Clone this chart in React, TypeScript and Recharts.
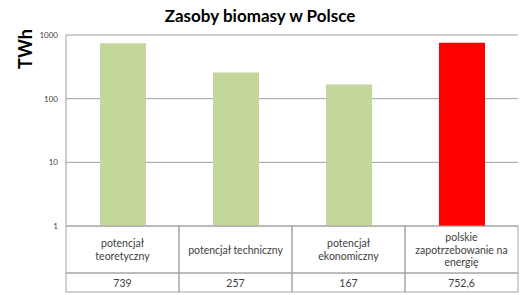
import { BarChart, Bar, XAxis, YAxis, CartesianGrid, Cell } from "recharts"

const categories = [
  "potencjał\nteoretyczny",
  "potencjał techniczny",
  "potencjał\nekonomiczny",
  "polskie\nzapotrzebowanie na\nenergię",
]
const values = [739, 257, 167, 752.6]
const valueLabels = ["739", "257", "167", "752,6"]
const barColors = ["#c3d69b", "#c3d69b", "#c3d69b", "#ff0000"]
const yTicks = [1, 10, 100, 1000]

const data = categories.map((name, i) => ({ name, value: values[i], label: valueLabels[i] }))

const W = 525
const H = 295
const margin = { top: 35, right: 7, bottom: 3, left: 0 }
const yAxisWidth = 66
const colW = (W - margin.left - margin.right - yAxisWidth) / categories.length
const headerH = 47
const valueH = 19
const font = "Lato, 'Open Sans', sans-serif"

const TableTick = (props: any) => {
  const { x, y, index, payload } = props
  const lines = String(payload.value).split("\n")
  const midY = y + headerH / 2
  const lh = 12.5
  const first = midY - ((lines.length - 1) * lh) / 2
  return (
    <g>
      <rect x={x - colW / 2} y={y} width={colW} height={headerH} fill="none" stroke="#a6a6a6" />
      <rect x={x - colW / 2} y={y + headerH} width={colW} height={valueH} fill="none" stroke="#a6a6a6" />
      {lines.map((l, i) => (
        <text key={i} x={x} y={first + i * lh} textAnchor="middle" dominantBaseline="central"
          fontSize={10.5} fill="#404040" fontFamily={font}>
          {l}
        </text>
      ))}
      <text x={x} y={y + headerH + valueH / 2} textAnchor="middle" dominantBaseline="central"
        fontSize={10.5} fill="#404040" fontFamily={font}>
        {valueLabels[index]}
      </text>
    </g>
  )
}

export default function App() {
  return (
    <div style={{ position: "absolute", left: 0, top: 0, width: W, height: H, background: "#fff" }}>
      <BarChart width={W} height={H} data={data} margin={margin}>
        <text x={260} y={15} textAnchor="middle" dominantBaseline="central"
          fontSize={17} fontWeight="bold" fill="#000" fontFamily={font}>
          Zasoby biomasy w Polsce
        </text>
        <text x={25} y={49} textAnchor="middle" dominantBaseline="central"
          fontSize={18} fontWeight="bold" fill="#000" fontFamily={font}
          transform="rotate(-90 25 49)">
          TWh
        </text>
        <CartesianGrid vertical={false} stroke="#a0a0a0" />
        <YAxis
          width={yAxisWidth}
          scale="log"
          domain={[1, 1000]}
          ticks={yTicks}
          allowDataOverflow
          axisLine={{ stroke: "#a0a0a0" }}
          tickLine={false}
          tickSize={6}
          tickMargin={2}
          tick={{ fontSize: 8, fill: "#404040", fontFamily: font }}
        />
        <XAxis
          dataKey="name"
          height={headerH + valueH}
          axisLine={false}
          tickLine={false}
          tickSize={0}
          tickMargin={0}
          interval={0}
          tick={<TableTick />}
        />
        <Bar dataKey="value" barSize={46} isAnimationActive={false}>
          {data.map((d, i) => (
            <Cell key={d.name} fill={barColors[i]} />
          ))}
        </Bar>
      </BarChart>
    </div>
  )
}
